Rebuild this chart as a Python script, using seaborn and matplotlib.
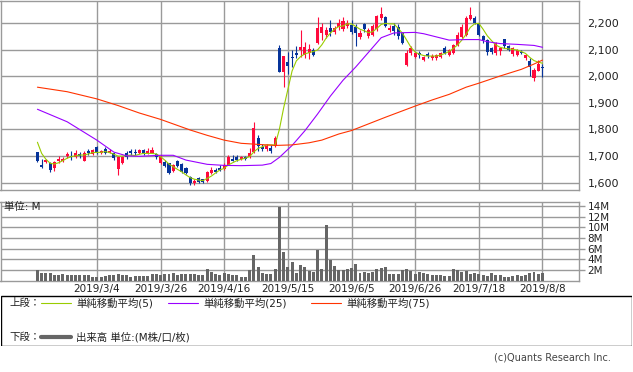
import matplotlib
matplotlib.use("Agg")
import matplotlib.pyplot as plt
from matplotlib.lines import Line2D
from matplotlib.patches import Rectangle
import numpy as np
import pandas as pd
import seaborn as sns

# ── data (one candle per trading day from 2019/2/12) ──
opens = [1715, 1665, 1677, 1675, 1654, 1680, 1682, 1700, 1700, 1698,
         1708, 1683, 1718, 1706, 1735, 1712, 1726, 1713, 1710, 1650,
         1673, 1713, 1720, 1717, 1712, 1724, 1712, 1712, 1708, 1673,
         1679, 1673, 1643, 1681, 1672, 1655, 1620, 1600, 1616, 1612,
         1607, 1636, 1648, 1655, 1651, 1667, 1688, 1698, 1689, 1698,
         1695, 1717, 1769, 1736, 1727, 1730, 1738, 2105, 2017, 2055,
         2074, 2088, 2099, 2080, 2087, 2100, 2124, 2162, 2155, 2180,
         2168, 2187, 2177, 2188, 2193, 2187, 2147, 2195, 2152, 2155,
         2176, 2218, 2224, 2174, 2189, 2187, 2162, 2043, 2087, 2074,
         2089, 2062, 2084, 2068, 2068, 2072, 2105, 2080, 2087, 2118,
         2149, 2155, 2215, 2218, 2199, 2150, 2136, 2105, 2089, 2095,
         2139, 2112, 2083, 2080, 2093, 2070, 2057, 1993, 2021, 2036]
highs = [1717, 1688, 1690, 1677, 1683, 1700, 1695, 1717, 1720, 1722,
         1715, 1718, 1726, 1725, 1737, 1722, 1735, 1725, 1712, 1700,
         1700, 1720, 1728, 1725, 1727, 1728, 1730, 1735, 1712, 1703,
         1685, 1675, 1670, 1685, 1675, 1660, 1625, 1612, 1620, 1615,
         1645, 1660, 1655, 1665, 1675, 1703, 1705, 1703, 1702, 1702,
         1730, 1830, 1780, 1745, 1745, 1740, 1775, 2118, 2078, 2092,
         2097, 2115, 2174, 2130, 2120, 2108, 2224, 2200, 2184, 2210,
         2190, 2215, 2222, 2210, 2210, 2195, 2175, 2200, 2180, 2195,
         2232, 2262, 2228, 2192, 2200, 2195, 2165, 2100, 2115, 2090,
         2095, 2078, 2090, 2082, 2085, 2090, 2112, 2102, 2120, 2165,
         2195, 2225, 2262, 2225, 2202, 2155, 2140, 2110, 2130, 2110,
         2142, 2118, 2110, 2102, 2100, 2085, 2068, 2030, 2062, 2046]
lows = [1677, 1657, 1675, 1641, 1645, 1675, 1678, 1692, 1685, 1694,
        1694, 1680, 1704, 1703, 1708, 1708, 1708, 1710, 1685, 1630,
        1670, 1690, 1705, 1705, 1708, 1705, 1708, 1710, 1688, 1670,
        1660, 1633, 1640, 1660, 1635, 1633, 1592, 1590, 1600, 1598,
        1603, 1632, 1636, 1645, 1648, 1665, 1680, 1682, 1685, 1685,
        1692, 1710, 1718, 1718, 1720, 1710, 1735, 2015, 1961, 2007,
        2035, 2067, 2074, 2070, 2065, 2075, 2120, 2138, 2145, 2150,
        2160, 2175, 2172, 2180, 2160, 2112, 2140, 2165, 2145, 2150,
        2172, 2212, 2185, 2168, 2155, 2140, 2120, 2040, 2080, 2068,
        2068, 2058, 2070, 2062, 2062, 2068, 2082, 2075, 2082, 2113,
        2145, 2150, 2210, 2195, 2150, 2125, 2080, 2085, 2080, 2080,
        2108, 2095, 2078, 2075, 2082, 2060, 2000, 1984, 2018, 1998]
closes = [1683, 1660, 1684, 1648, 1679, 1688, 1688, 1707, 1695, 1710,
          1700, 1710, 1712, 1722, 1712, 1718, 1712, 1720, 1694, 1697,
          1698, 1697, 1713, 1712, 1724, 1710, 1718, 1722, 1695, 1700,
          1663, 1636, 1667, 1663, 1640, 1637, 1597, 1608, 1604, 1604,
          1641, 1648, 1640, 1648, 1667, 1698, 1683, 1687, 1698, 1688,
          1710, 1805, 1737, 1725, 1738, 1720, 1767, 2017, 2076, 2037,
          2068, 2080, 2111, 2111, 2103, 2080, 2180, 2184, 2174, 2168,
          2180, 2199, 2209, 2200, 2168, 2162, 2162, 2178, 2174, 2189,
          2228, 2236, 2190, 2183, 2172, 2152, 2125, 2086, 2105, 2086,
          2080, 2071, 2077, 2076, 2080, 2086, 2087, 2099, 2118, 2155,
          2187, 2218, 2230, 2200, 2155, 2135, 2090, 2093, 2124, 2105,
          2112, 2100, 2105, 2099, 2089, 2080, 2036, 2024, 2046, 2031]

# volume, millions of shares
volume = [1.9, 1.4, 1.4, 1.4, 0.95, 1.1, 1.2, 0.95, 1.1, 1.0,
          1.05, 0.95, 1.0, 0.7, 0.7, 0.65, 0.9, 0.95, 1.1, 1.3,
          0.95, 1.05, 0.7, 0.9, 0.9, 0.9, 0.9, 1.15, 1.2, 1.1,
          1.2, 1.2, 1.35, 1.0, 1.2, 1.2, 1.3, 1.2, 1.0, 0.95,
          2.1, 1.6, 1.3, 1.0, 1.4, 1.3, 1.1, 1.1, 0.6, 0.6,
          1.9, 4.75, 2.55, 1.5, 1.25, 1.25, 2.1, 13.8, 5.3, 2.6,
          3.5, 1.5, 2.9, 2.5, 1.75, 1.6, 5.7, 2.1, 10.4, 3.8,
          2.75, 1.9, 1.9, 2.1, 2.3, 3.1, 1.45, 1.55, 1.5, 1.6,
          2.1, 2.4, 2.5, 1.2, 1.2, 1.25, 1.9, 2.1, 1.75, 1.3,
          1.6, 1.4, 1.2, 1.0, 1.0, 1.0, 0.8, 0.8, 2.25, 1.9,
          1.6, 1.75, 1.25, 1.5, 1.3, 1.1, 0.9, 1.45, 0.95, 1.0,
          0.75, 0.6, 0.8, 1.0, 0.9, 1.0, 1.4, 1.55, 1.25, 1.4]

ma5 = [1752, 1710, 1688, 1673, 1670, 1675, 1683, 1692, 1698, 1701,
       1704, 1704, 1708, 1713, 1714, 1714, 1717, 1713, 1707, 1700,
       1700, 1702, 1704, 1702, 1707, 1710, 1710, 1710, 1708, 1698,
       1685, 1670, 1660, 1650, 1641, 1629, 1619, 1613, 1610, 1608,
       1616, 1625, 1637, 1648, 1654, 1667, 1675, 1683, 1688, 1692,
       1698, 1716, 1729, 1735, 1742, 1742, 1742, 1800, 1880, 1950,
       2020, 2058, 2074, 2084, 2089, 2093, 2099, 2118, 2143, 2162,
       2177, 2187, 2189, 2197, 2197, 2187, 2177, 2171, 2164, 2168,
       2180, 2195, 2199, 2197, 2197, 2180, 2162, 2136, 2109, 2091,
       2083, 2078, 2076, 2076, 2076, 2080, 2086, 2093, 2105, 2118,
       2136, 2158, 2184, 2197, 2199, 2177, 2152, 2134, 2118, 2109,
       2105, 2103, 2101, 2099, 2093, 2086, 2071, 2059, 2053, 2049]

# the 25/75-day averages are smooth: read at these days
ma25_day = [0, 7, 14, 18, 21, 24, 29, 32, 35, 40, 44, 48, 53, 55, 57, 60,
            63, 66, 69, 72, 75, 78, 81, 84, 89, 91, 94, 97, 101, 104, 106,
            109, 113, 117, 119]
ma25 = [1876, 1829, 1760, 1715, 1701, 1699, 1703, 1703, 1685, 1669, 1665,
        1664, 1666, 1672, 1695, 1740, 1795, 1858, 1925, 1985, 2035, 2090,
        2145, 2163, 2165, 2160, 2148, 2136, 2138, 2138, 2130, 2123, 2120,
        2116, 2109]
ma75_day = [0, 7, 14, 19, 24, 29, 36, 40, 44, 48, 52, 56, 60, 64, 67, 71,
            74, 78, 82, 86, 89, 93, 97, 101, 104, 109, 114, 117, 119]
ma75 = [1959, 1942, 1915, 1890, 1862, 1838, 1798, 1778, 1760, 1748, 1744,
        1740, 1742, 1750, 1760, 1783, 1796, 1821, 1846, 1870, 1888, 1911,
        1932, 1959, 1974, 2001, 2026, 2046, 2061]

tick_days = [14, 29, 44, 59, 74, 89, 104, 119]
tick_labels = ["2019/3/4", "2019/3/26", "2019/4/16", "2019/5/15",
               "2019/6/5", "2019/6/26", "2019/7/18", "2019/8/8"]
price_ticks = [1600, 1700, 1800, 1900, 2000, 2100, 2200]
vol_ticks = [2, 4, 6, 8, 10, 12, 14]

# ── style ──
sns.set_style("white")
plt.rcParams["font.family"] = ["DejaVu Sans", "Noto Sans CJK JP"]
GRID = "#9a9a9a"
UP, DOWN = "#ff0a3c", "#06349a"

W, H = 633, 372
fig = plt.figure(figsize=(W / 100, H / 100), dpi=100)
ax_p = fig.add_axes([0.5 / W, 1 - 190 / H, 578.5 / W, 189 / H])
ax_v = fig.add_axes([0.5 / W, 1 - 280.5 / H, 578.5 / W, 78.8 / H])

days = np.arange(len(closes))
o, h, l, c = map(np.asarray, (opens, highs, lows, closes))
up = c >= o
col = np.where(up, UP, DOWN)

for ax in (ax_p, ax_v):
    ax.set_xlim(-8.7, 127.6)
    for s in ax.spines.values():
        s.set_color(GRID)
        s.set_linewidth(1.0)
    ax.set_xticks(tick_days)
    ax.grid(True, color=GRID, linewidth=1.0)
    ax.set_axisbelow(True)

# price panel
ax_p.set_ylim(1572.5, 2283)
ax_p.set_yticks(price_ticks)
ax_p.set_yticklabels([f"{p:,}" for p in price_ticks])
ax_p.yaxis.tick_right()
ax_p.tick_params(axis="y", length=0, pad=6, labelsize=8, labelcolor="#222222")
ax_p.tick_params(axis="x", length=0, labelbottom=False)

ax_p.vlines(days, l, h, colors=col, linewidth=0.8, zorder=3)
body = np.maximum(np.abs(c - o), 2.5)
ax_p.bar(days, body, bottom=np.minimum(o, c), width=0.72, color=col,
         linewidth=0, zorder=4)

ma = pd.DataFrame({"day": days, "ma5": ma5})
sns.lineplot(data=ma, x="day", y="ma5", ax=ax_p, color="#99cc00",
             linewidth=0.8, estimator=None, sort=False, zorder=5)
sns.lineplot(x=ma25_day, y=ma25, ax=ax_p, color="#9900ff", linewidth=0.8,
             estimator=None, sort=False, zorder=5)
sns.lineplot(x=ma75_day, y=ma75, ax=ax_p, color="#ff3300", linewidth=0.8,
             estimator=None, sort=False, zorder=5)
ax_p.set_xlabel("")
ax_p.set_ylabel("")

# volume panel
ax_v.bar(days, volume, width=0.7, color="#666666", linewidth=0, zorder=3)
ax_v.set_ylim(0, 14.8)
ax_v.set_yticks(vol_ticks)
ax_v.set_yticklabels([f"{v}M" for v in vol_ticks])
ax_v.yaxis.tick_right()
ax_v.tick_params(axis="y", length=4, width=1, color=GRID, pad=2,
                 labelsize=7.5, labelcolor="#222222")
ax_v.set_xticklabels(tick_labels)
ax_v.tick_params(axis="x", length=0, pad=2.5, labelsize=7.5,
                 labelcolor="#222222")
ax_v.text(4 / 578.5, 0.93, "単位: M", transform=ax_v.transAxes,
          fontsize=7.5, va="center", ha="left", color="#222222")

# legend box
leg = fig.add_axes([0.5 / W, 1 - 346 / H, 631.5 / W, 51 / H])
leg.set_xlim(0, 631.5)
leg.set_ylim(346, 295)
leg.axis("off")
leg.add_patch(Rectangle((0, 295.5), 631, 50, fill=False, edgecolor="black",
                        linewidth=1.0))
row1, row2 = 303, 337
leg.text(9, row1, "上段：", fontsize=7.5, va="center", color="#222222")
leg.text(9, row2, "下段：", fontsize=7.5, va="center", color="#222222")
for x0, colr, lab in [(40, "#99cc00", "単純移動平均(5)"),
                      (167, "#9900ff", "単純移動平均(25)"),
                      (310, "#ff3300", "単純移動平均(75)")]:
    leg.add_line(Line2D([x0, x0 + 30], [row1, row1], color=colr, linewidth=0.8))
    leg.text(x0 + 35.5, row1, lab, fontsize=7.5, va="center", color="#222222")
leg.add_line(Line2D([40, 70], [row2, row2], color="#666666", linewidth=3.0))
leg.text(75.5, row2, "出来高 単位:(M株/口/枚)", fontsize=7.5, va="center",
         color="#222222")

fig.text(611 / W, 1 - 357.5 / H, "(c)Quants Research Inc.", fontsize=7,
         ha="right", va="center", color="#444444")

fig.savefig("out.png", dpi=100)
